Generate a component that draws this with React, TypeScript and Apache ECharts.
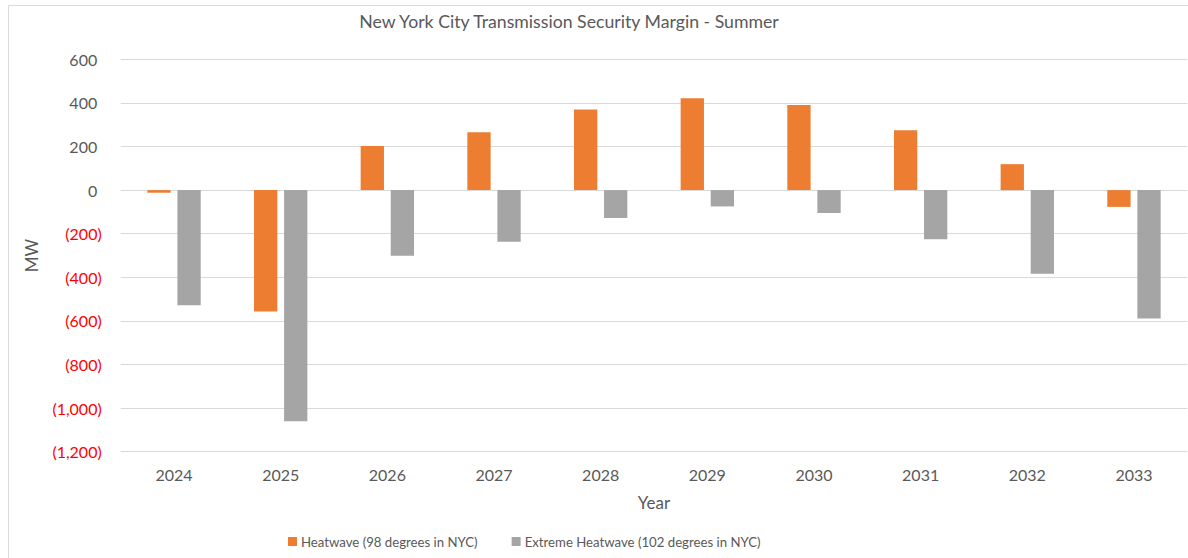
import React, { useEffect, useRef } from "react";
import * as echarts from "echarts";

const years = ["2024", "2025", "2026", "2027", "2028", "2029", "2030", "2031", "2032", "2033"];
const heatwave = [-12, -557, 202, 265, 370, 421, 390, 275, 119, -77];
const extremeHeatwave = [-528, -1060, -301, -237, -128, -75, -105, -225, -384, -589];
const seriesNames = ["Heatwave (98 degrees in NYC)", "Extreme Heatwave (102 degrees in NYC)"];
const titleText = "New York City Transmission Security Margin - Summer";

const FONT = "Lato, 'Open Sans', sans-serif";
const TEXT = "#595959";

function fmt(v: number): string {
  const s = Math.abs(v).toLocaleString("en-US");
  return v < 0 ? `{neg|(${s})}` : `{pos|${s}}`;
}

export default function App() {
  const ref = useRef<HTMLDivElement>(null);
  useEffect(() => {
    if (!ref.current) return;
    const chart = echarts.init(ref.current, undefined, { renderer: "svg" });
    chart.setOption({
      animation: false,
      textStyle: { fontFamily: FONT },
      title: {
        text: titleText,
        left: 564,
        textAlign: "center",
        top: 7,
        textStyle: { fontFamily: FONT, fontSize: 17.7, fontWeight: "normal", color: TEXT },
      },
      graphic: [
        {
          type: "rect",
          shape: { x: 8.5, y: 5.5, width: 1300, height: 700 },
          style: { fill: "none", stroke: "#d9d9d9", lineWidth: 1 },
          silent: true,
          z: -1,
        },
      ],
      legend: {
        left: 283,
        top: 530,
        itemWidth: 9,
        itemHeight: 9,
        itemGap: 34,
        icon: "rect",
        textStyle: { fontFamily: FONT, fontSize: 13.2, color: TEXT, padding: [0, 0, 0, -1] },
        data: seriesNames,
      },
      grid: { left: 120.7, right: 0.7, top: 59.3, bottom: 106.3, containLabel: false },
      xAxis: {
        type: "category",
        data: years,
        name: "Year",
        nameLocation: "middle",
        nameGap: 42,
        nameTextStyle: { fontFamily: FONT, fontSize: 17, color: TEXT },
        axisLine: { show: false },
        axisTick: { show: false },
        axisLabel: { margin: 15, fontFamily: FONT, fontSize: 16, color: TEXT },
      },
      yAxis: {
        type: "value",
        min: -1200,
        max: 600,
        interval: 200,
        name: "MW",
        nameLocation: "middle",
        nameGap: 81,
        nameRotate: 90,
        nameTextStyle: { fontFamily: FONT, fontSize: 17, color: TEXT },
        axisLine: { show: false },
        axisTick: { show: false },
        splitLine: { lineStyle: { color: "#d9d9d9", width: 1 } },
        axisLabel: {
          margin: 19,
          fontFamily: FONT,
          fontSize: 16,
          formatter: (v: number) => fmt(v),
          rich: {
            pos: { fontFamily: FONT, fontSize: 16, color: TEXT, padding: [0, 4.5, 0, 0] },
            neg: { fontFamily: FONT, fontSize: 16, color: "#FF0000" },
          },
        },
      },
      series: [
        {
          name: seriesNames[0],
          type: "bar",
          data: heatwave,
          barWidth: 23.3,
          barGap: "29%",
          itemStyle: { color: "#ED7D31" },
        },
        {
          name: seriesNames[1],
          type: "bar",
          data: extremeHeatwave,
          barWidth: 23.3,
          barGap: "29%",
          itemStyle: { color: "#A5A5A5" },
        },
      ],
    });
    return () => chart.dispose();
  }, []);
  return (
    <div
      ref={ref}
      style={{ position: "fixed", left: 0, top: 0, width: 1188, height: 558, background: "#fff" }}
    />
  );
}
